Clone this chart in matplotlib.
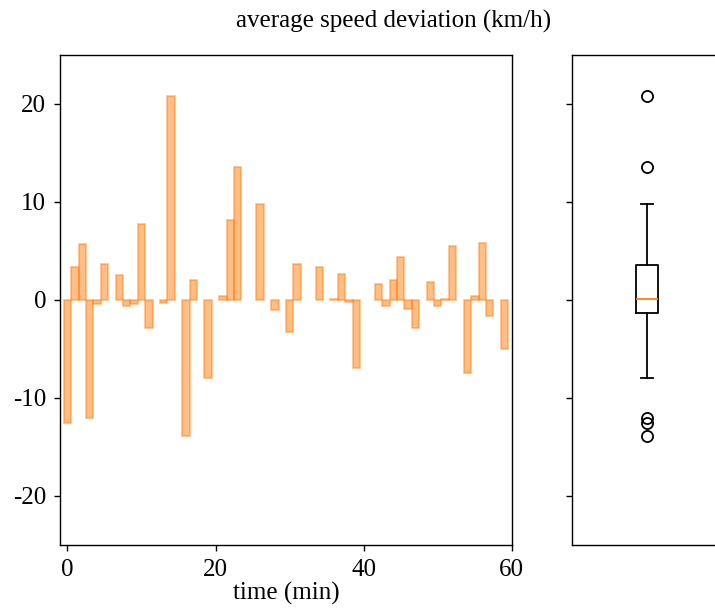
import numpy as np
import matplotlib
matplotlib.use("Agg")
import matplotlib.pyplot as plt

plt.rcParams["font.family"] = "Liberation Serif"
plt.rcParams["axes.unicode_minus"] = False
plt.rcParams["axes.linewidth"] = 1.0
plt.rcParams["xtick.major.width"] = 1.0
plt.rcParams["ytick.major.width"] = 1.0

nan = np.nan
# minute index and average speed deviation per minute (km/h); nan = no data
minutes = np.arange(60)
deviation = np.array([
    -12.6, 3.4, 5.7, -12.0, -0.4, 3.7, nan, 2.5, -0.6, -0.4,
    7.8, -2.9, nan, -0.3, 20.8, nan, -13.9, 2.0, nan, -8.0,
    nan, 0.4, 8.2, 13.6, nan, nan, 9.8, nan, -1.0, nan,
    -3.3, 3.7, nan, nan, 3.4, nan, 0.1, 2.7, -0.2, -6.9,
    nan, nan, 1.6, -0.6, 2.0, 4.4, -0.9, -2.9, nan, 1.8,
    -0.6, 0.1, 5.5, nan, -7.4, 0.4, 5.8, -1.6, nan, -5.0,
])
xticks = [0, 20, 40, 60]
yticks = [-20, -10, 0, 10, 20]

fig = plt.figure(figsize=(7.15, 6.09), dpi=100)
ax = fig.add_axes([0.0839, 0.1051, 0.632, 0.8046])
ax_box = fig.add_axes([0.8, 0.1051, 0.2098, 0.8046], sharey=ax)

ax.bar(minutes, deviation, width=1.0, color="tab:orange", alpha=0.5,
       edgecolor="tab:orange", linewidth=1.2)
ax.set_xlim(-1, 60)
ax.set_ylim(-25, 25)
ax.set_xticks(xticks)
ax.set_yticks(yticks)
ax.tick_params(labelsize=18, length=4.5, pad=5.5)
ax.set_xlabel("time (min)", fontsize=18, labelpad=1)

valid = deviation[~np.isnan(deviation)]
lw = 1.3
ax_box.boxplot(valid, widths=0.15,
               boxprops=dict(linewidth=lw),
               whiskerprops=dict(linewidth=lw),
               capprops=dict(linewidth=lw),
               medianprops=dict(linewidth=lw),
               flierprops=dict(markersize=8, markeredgewidth=lw))
ax_box.set_xlim(0.5, 1.5)
ax_box.set_xticks([])
ax_box.tick_params(labelleft=False, length=4.5)

fig.text(0.55, 0.965, "average speed deviation (km/h)", ha="center",
         va="center", fontsize=18)

fig.savefig("out.png", dpi=100)
